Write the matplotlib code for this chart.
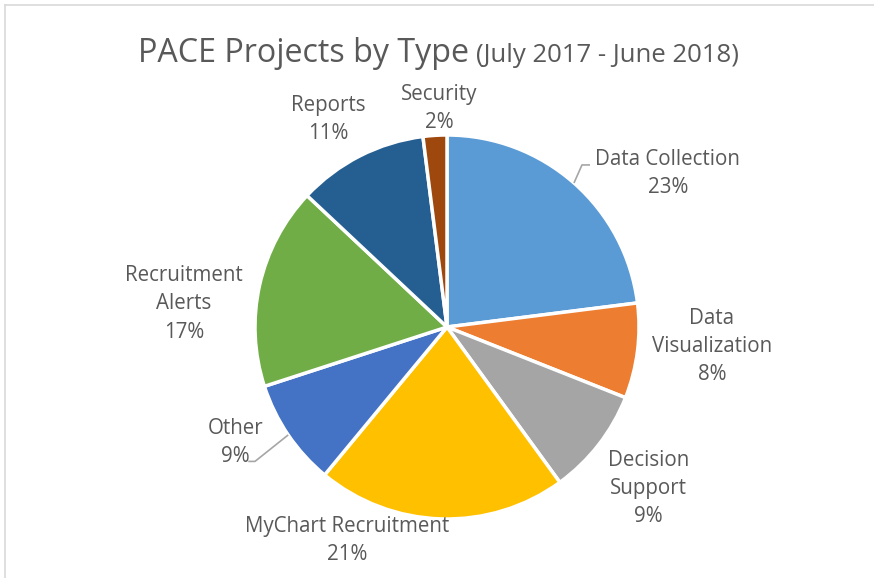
import matplotlib
matplotlib.use("Agg")
import matplotlib.pyplot as plt
import numpy as np

categories = ["Data Collection", "Data\nVisualization", "Decision\nSupport", "MyChart Recruitment",
              "Other", "Recruitment\nAlerts", "Reports", "Security"]
values = [23, 8, 9, 21, 9, 17, 11, 2]
colors = ["#5B9BD5", "#ED7D31", "#A5A5A5", "#FFC000", "#4472C4", "#70AD47", "#255E91", "#9E480E"]
# label offsets in units of radius (x, y)
label_pos = [(1.15, 0.80), (1.38, -0.10), (1.05, -0.84), (-0.52, -1.11),
             (-1.10, -0.60), (-1.37, 0.12), (-0.62, 1.08), (-0.04, 1.14)]

W, H = 874, 578
fig = plt.figure(figsize=(W / 100, H / 100), dpi=100)
ax = fig.add_axes([0, 0, 1, 1])

cx, cy, R = 447, H - 327, 192
wedges, _ = ax.pie(values, colors=colors, startangle=90, counterclock=False,
                   center=(cx, cy), radius=R, frame=True,
                   wedgeprops=dict(edgecolor="white", linewidth=2.5))
ax.set_xlim(0, W)
ax.set_ylim(0, H)
ax.set_aspect("equal")
ax.axis("off")

font = "Open Sans"
tc = "#595959"
for cat, v, (lx, ly) in zip(categories, values, label_pos):
    ax.text(cx + lx * R, cy + ly * R, f"{cat}\n{v}%", ha="center", va="center",
            fontsize=14.8, color=tc, family=font, linespacing=1.45)

# leader lines
def leader(i, pts):
    w = wedges[i]
    ang = np.deg2rad((w.theta1 + w.theta2) / 2)
    x0, y0 = cx + R * np.cos(ang), cy + R * np.sin(ang)
    xs = [x0] + [cx + p[0] * R for p in pts]
    ys = [y0] + [cy + p[1] * R for p in pts]
    ax.plot(xs, ys, color="#A6A6A6", lw=1.2, solid_capstyle="butt")

leader(0, [(0.703, 0.844), (0.745, 0.844)])
leader(4, [(-1.0, -0.70), (-1.035, -0.70)])

# title
base_y = H - 62
t1 = ax.text(138, base_y, "PACE Projects by Type", ha="left", va="baseline",
             fontsize=23.2, color=tc, family=font)
fig.canvas.draw()
bb = t1.get_window_extent().transformed(ax.transData.inverted())
ax.text(bb.x1 + 7, base_y, "(July 2017 - June 2018)", ha="left", va="baseline",
        fontsize=18.5, color=tc, family=font)

# chart border (top and left visible)
ax.plot([5, W], [H - 5, H - 5], color="#D9D9D9", lw=1.2, clip_on=False)
ax.plot([5, 5], [H - 5, 0], color="#D9D9D9", lw=1.2, clip_on=False)

fig.savefig("out.png", dpi=100)
